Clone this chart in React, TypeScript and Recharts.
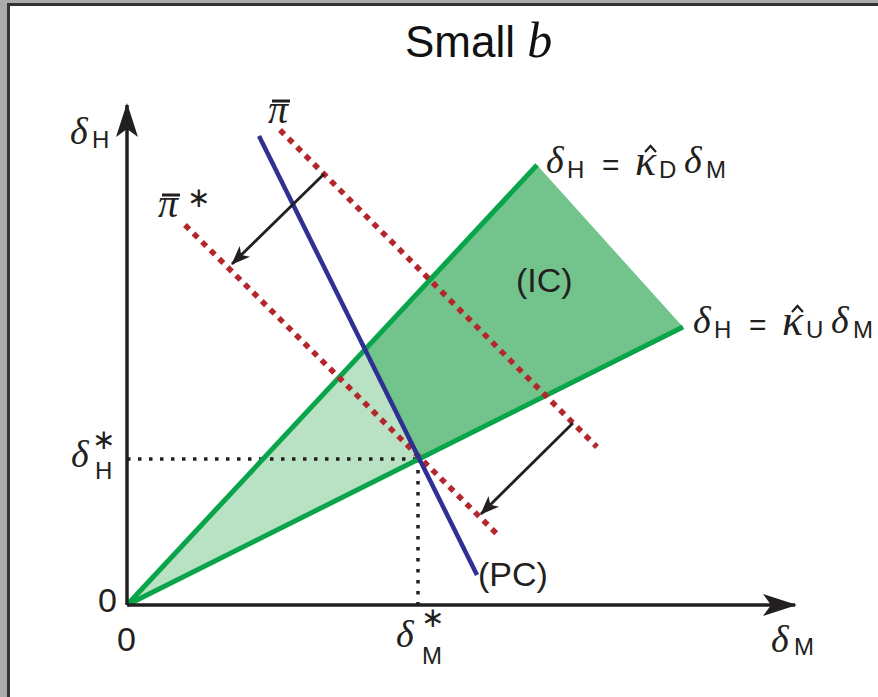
import { ComposedChart, Line, Area, XAxis, YAxis } from 'recharts';

// diagram units: origin at the axes corner, 1 unit ~ 100px
const axisM = [{ x: 0, y: 0 }, { x: 6.68, y: 0 }];
const axisH = [{ x: 0, y: 0 }, { x: 0, y: 5.0 }];
const rayD = [{ x: 0, y: 0 }, { x: 4.1, y: 4.4 }];
const rayU = [{ x: 0, y: 0 }, { x: 5.56, y: 2.78 }];
const pcLine = [{ x: 1.32, y: 4.69 }, { x: 3.5, y: 0.3 }];
const piBar = [{ x: 1.53, y: 4.75 }, { x: 4.7, y: 1.58 }];
const piStar = [{ x: 0.58, y: 3.8 }, { x: 3.73, y: 0.68 }];
const shiftTop = [{ x: 1.97, y: 4.31 }, { x: 1.05, y: 3.41 }];
const shiftBottom = [{ x: 4.46, y: 1.82 }, { x: 3.54, y: 0.91 }];
const guideH = [{ x: 0, y: 1.46 }, { x: 2.91, y: 1.46 }];
const guideM = [{ x: 2.91, y: 1.46 }, { x: 2.91, y: 0 }];

// shaded regions, as [low, high] bands
const icRegion = [
    { x: 2.38, r: [2.55, 2.55] },
    { x: 2.91, r: [1.46, 3.12] },
    { x: 4.1, r: [2.05, 4.4] },
    { x: 5.56, r: [2.78, 2.78] },
];
const pcRegion = [
    { x: 0, r: [0, 0] },
    { x: 2.38, r: [1.19, 2.55] },
    { x: 2.91, r: [1.46, 1.46] },
];

const SANS = '"Liberation Sans", Arial, sans-serif';
const SERIF = '"Liberation Serif", "Times New Roman", serif';
const INK = '#231f20';
const GREEN = '#0aa54b';
const RED = '#b3262c';
const BLUE = '#2e3192';

function Greek({ x, y, ch, size = 38 }: { x: number; y: number; ch: string; size?: number }) {
    return <text x={x} y={y} fontFamily={SERIF} fontStyle="italic" fontSize={size} fill={INK}>{ch}</text>;
}

function Sub({ x, y, ch, size = 24 }: { x: number; y: number; ch: string; size?: number }) {
    return <text x={x} y={y} fontFamily={SANS} fontSize={size} fill={INK}>{ch}</text>;
}

function Star({ x, y }: { x: number; y: number }) {
    return <text x={x} y={y} fontFamily='"DejaVu Sans", sans-serif' fontSize={28} fill={INK}>∗</text>;
}

function KappaLabel({ x, y, sub }: { x: number; y: number; sub: string }) {
    return (
        <g>
            <Greek x={x} y={y} ch="δ" />
            <Sub x={x + 21} y={y + 5} ch="H" />
            <text x={x + 56} y={y + 2} fontFamily={SANS} fontSize={30} fill={INK}>=</text>
            <Greek x={x + 89} y={y + 2} ch="κ" size={44} />
            <path d={`M${x + 99},${y - 21} L${x + 104.5},${y - 27} L${x + 110},${y - 21}`} fill="none" stroke={INK} strokeWidth={2.2} />
            <Sub x={x + 113} y={y + 5} ch={sub} />
            <Greek x={x + 138} y={y} ch="δ" />
            <Sub x={x + 160} y={y + 5} ch="M" />
        </g>
    );
}

export default function App() {
    return (
        <div style={{ position: 'fixed', left: 0, top: 0, width: 878, height: 697, background: '#ababab', overflow: 'hidden' }}>
            <div style={{ position: 'absolute', left: 7, top: 3, width: 900, height: 720, background: '#fff', borderLeft: '3px solid #333', borderTop: '3px solid #333' }} />
            <svg width={0} height={0} style={{ position: 'absolute' }}>
                <defs>
                    <marker id="bigHead" markerUnits="userSpaceOnUse" markerWidth={40} markerHeight={28} viewBox="-34 -14 36 28" refX={0} refY={0} orient="auto">
                        <path d="M2,0 L-32,-11 L-24,0 L-32,11 Z" fill={INK} />
                    </marker>
                    <marker id="smallHead" markerUnits="userSpaceOnUse" markerWidth={24} markerHeight={18} viewBox="-20 -9 22 18" refX={0} refY={0} orient="auto">
                        <path d="M1,0 L-18,-7.5 L-13,0 L-18,7.5 Z" fill={INK} />
                    </marker>
                </defs>
            </svg>
            <div style={{ position: 'absolute', left: 0, top: 0 }}>
                <ComposedChart width={878} height={697} margin={{ top: 0, right: 0, bottom: 0, left: 0 }}>
                    <XAxis type="number" dataKey="x" domain={[-1.27, 7.51]} hide allowDataOverflow />
                    <YAxis type="number" domain={[-0.92, 6.05]} hide allowDataOverflow />
                    <Area data={pcRegion} dataKey="r" type="linear" fill="#b9e1c3" fillOpacity={1} stroke="none" dot={false} activeDot={false} isAnimationActive={false} />
                    <Area data={icRegion} dataKey="r" type="linear" fill="#72c48c" fillOpacity={1} stroke="none" dot={false} activeDot={false} isAnimationActive={false} />
                    <Line data={guideH} dataKey="y" stroke={INK} strokeWidth={3.5} strokeDasharray="3.5 7.5" dot={false} activeDot={false} isAnimationActive={false} />
                    <Line data={guideM} dataKey="y" stroke={INK} strokeWidth={3.5} strokeDasharray="3.5 7.5" dot={false} activeDot={false} isAnimationActive={false} />
                    <Line data={rayD} dataKey="y" stroke={GREEN} strokeWidth={5} dot={false} activeDot={false} isAnimationActive={false} />
                    <Line data={rayU} dataKey="y" stroke={GREEN} strokeWidth={5} dot={false} activeDot={false} isAnimationActive={false} />
                    <Line data={piBar} dataKey="y" stroke={RED} strokeWidth={5.5} strokeDasharray="6 6" dot={false} activeDot={false} isAnimationActive={false} />
                    <Line data={piStar} dataKey="y" stroke={RED} strokeWidth={5.5} strokeDasharray="6 6" dot={false} activeDot={false} isAnimationActive={false} />
                    <Line data={pcLine} dataKey="y" stroke={BLUE} strokeWidth={4.5} dot={false} activeDot={false} isAnimationActive={false} />
                    <Line data={shiftTop} dataKey="y" stroke={INK} strokeWidth={2.8} markerEnd="url(#smallHead)" dot={false} activeDot={false} isAnimationActive={false} />
                    <Line data={shiftBottom} dataKey="y" stroke={INK} strokeWidth={2.8} markerEnd="url(#smallHead)" dot={false} activeDot={false} isAnimationActive={false} />
                    <Line data={axisM} dataKey="y" stroke={INK} strokeWidth={3.5} markerEnd="url(#bigHead)" dot={false} activeDot={false} isAnimationActive={false} />
                    <Line data={axisH} dataKey="y" stroke={INK} strokeWidth={3.5} markerEnd="url(#bigHead)" dot={false} activeDot={false} isAnimationActive={false} />
                </ComposedChart>
            </div>
            <svg width={878} height={697} style={{ position: 'absolute', left: 0, top: 0, pointerEvents: 'none' }}>
                <text x={405} y={57} fontFamily={SANS} fontSize={44} fill="#111">
                    Small <tspan fontFamily={SERIF} fontStyle="italic" fontSize={50}>b</tspan>
                </text>

                <Greek x={70} y={144} ch="δ" />
                <Sub x={92} y={148} ch="H" />

                <Greek x={268} y={123} ch="π" size={40} />
                <line x1={272} y1={101} x2={290} y2={101} stroke={INK} strokeWidth={3} />

                <Greek x={158} y={217} ch="π" size={40} />
                <line x1={162} y1={195} x2={180} y2={195} stroke={INK} strokeWidth={3} />
                <Star x={187} y={207} />

                <KappaLabel x={546} y={173} sub="D" />
                <KappaLabel x={693} y={333} sub="U" />

                <text x={516} y={292} fontFamily={SANS} fontSize={34} fill={INK}>(IC)</text>
                <text x={478} y={586} fontFamily={SANS} fontSize={34} fill={INK}>(PC)</text>

                <Greek x={71} y={467} ch="δ" />
                <Star x={92} y={449} />
                <Sub x={95} y={479} ch="H" />

                <text x={98} y={612} fontFamily={SANS} fontSize={34} fill={INK}>0</text>
                <text x={117} y={651} fontFamily={SANS} fontSize={34} fill={INK}>0</text>

                <Greek x={396} y={647} ch="δ" />
                <Star x={421} y={627} />
                <Sub x={422} y={664} ch="M" />

                <Greek x={771} y={652} ch="δ" />
                <Sub x={794} y={655} ch="M" />
            </svg>
        </div>
    );
}
